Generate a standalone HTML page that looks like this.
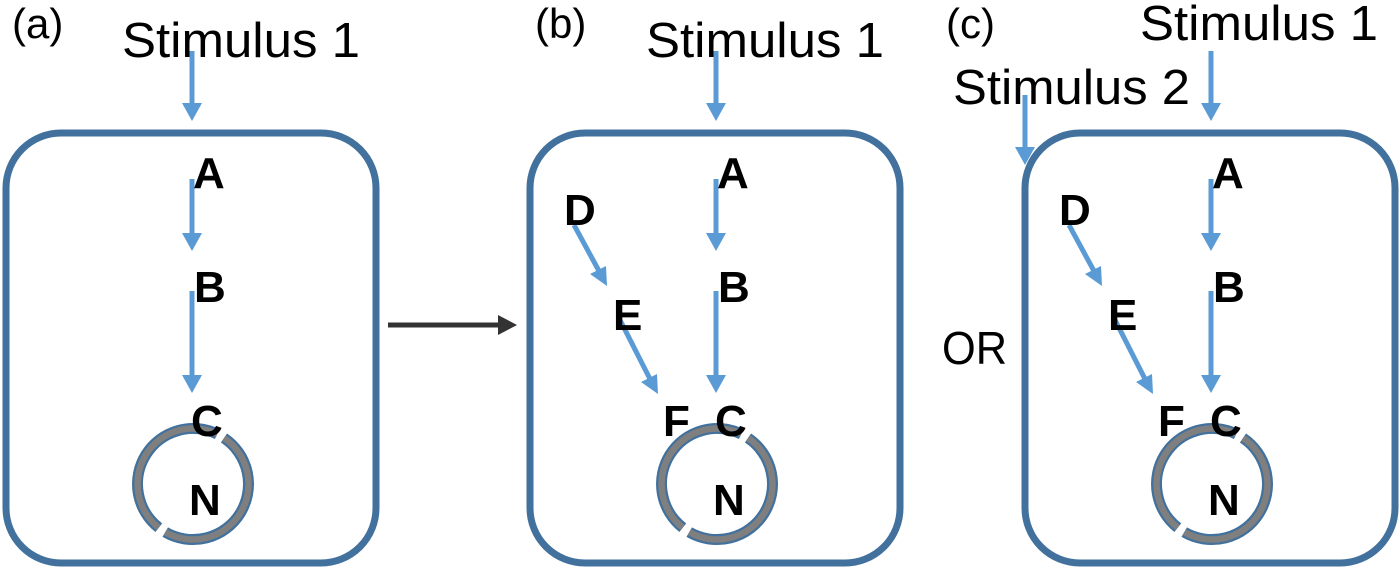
<!DOCTYPE html>
<html><head><meta charset="utf-8"><style>html,body{margin:0;padding:0;background:#fff}svg{display:block}</style></head>
<body>
<svg width="1400" height="571" viewBox="0 0 1400 571" xmlns="http://www.w3.org/2000/svg">
<defs>
<g id="ring">
  <path d="M224.0,438.0 A55.5,55.5 0 0 1 165.25,532.1 M158.8,527.7 A55.5,55.5 0 0 1 217.3,434.1" fill="none" stroke="#41719C" stroke-width="11"/>
  <path d="M224.0,438.0 A55.5,55.5 0 0 1 165.25,532.1 M158.8,527.7 A55.5,55.5 0 0 1 217.3,434.1" fill="none" stroke="#7F7F7F" stroke-width="6.5"/>
</g>
<g id="base">
  <rect x="6" y="133" width="370" height="430" rx="55" ry="55" fill="none" stroke="#41719C" stroke-width="7"/>
  <line x1="192" y1="51" x2="192" y2="104" stroke="#5B9BD5" stroke-width="5"/>
  <polygon points="182,103 202,103 192,121" fill="#5B9BD5"/>
  <line x1="192" y1="179" x2="192" y2="234" stroke="#5B9BD5" stroke-width="5"/>
  <polygon points="182,233 202,233 192,251" fill="#5B9BD5"/>
  <line x1="192" y1="291" x2="192" y2="376" stroke="#5B9BD5" stroke-width="5"/>
  <polygon points="182,375 202,375 192,393" fill="#5B9BD5"/>
  <use href="#ring"/>
  <g font-family="Liberation Sans, sans-serif" font-weight="bold" font-size="44" fill="#000">
    <text x="193" y="188">A</text>
    <text x="194" y="302">B</text>
    <text x="191" y="436">C</text>
    <text x="189" y="515">N</text>
  </g>
</g>
<g id="extra">
  <line x1="50" y1="225" x2="75" y2="271" stroke="#5B9BD5" stroke-width="5"/>
  <polygon points="83,286 66,274 82,266" fill="#5B9BD5"/>
  <line x1="95" y1="318" x2="126" y2="379" stroke="#5B9BD5" stroke-width="5"/>
  <polygon points="134,394 117,382 133,374" fill="#5B9BD5"/>
  <g font-family="Liberation Sans, sans-serif" font-weight="bold" font-size="44" fill="#000">
    <text x="40" y="225">D</text>
    <text x="89" y="330">E</text>
    <text x="139" y="436">F</text>
  </g>
</g>
</defs>

<use href="#base"/>
<g transform="translate(524,0)"><use href="#base"/><use href="#extra"/></g>
<g transform="translate(1019,0)"><use href="#base"/><use href="#extra"/></g>

<line x1="388" y1="325" x2="500" y2="325" stroke="#333" stroke-width="5"/>
<polygon points="498,315 517,325 498,335" fill="#333"/>

<line x1="1025" y1="95" x2="1025" y2="148" stroke="#5B9BD5" stroke-width="5"/>
<polygon points="1015,147 1035,147 1025,165" fill="#5B9BD5"/>

<g font-family="Liberation Sans, sans-serif" fill="#000">
  <text x="12" y="38" font-size="42">(a)</text>
  <text x="535" y="38" font-size="42">(b)</text>
  <text x="946" y="38" font-size="42">(c)</text>
  <text x="122" y="57" font-size="49" textLength="238" lengthAdjust="spacingAndGlyphs">Stimulus 1</text>
  <text x="646" y="57" font-size="49" textLength="238" lengthAdjust="spacingAndGlyphs">Stimulus 1</text>
  <text x="1140" y="40" font-size="49" textLength="238" lengthAdjust="spacingAndGlyphs">Stimulus 1</text>
  <text x="953" y="104" font-size="49" textLength="237" lengthAdjust="spacingAndGlyphs">Stimulus 2</text>
  <text x="942" y="364" font-size="46" textLength="65" lengthAdjust="spacingAndGlyphs">OR</text>
</g>
</svg>
</body></html>
